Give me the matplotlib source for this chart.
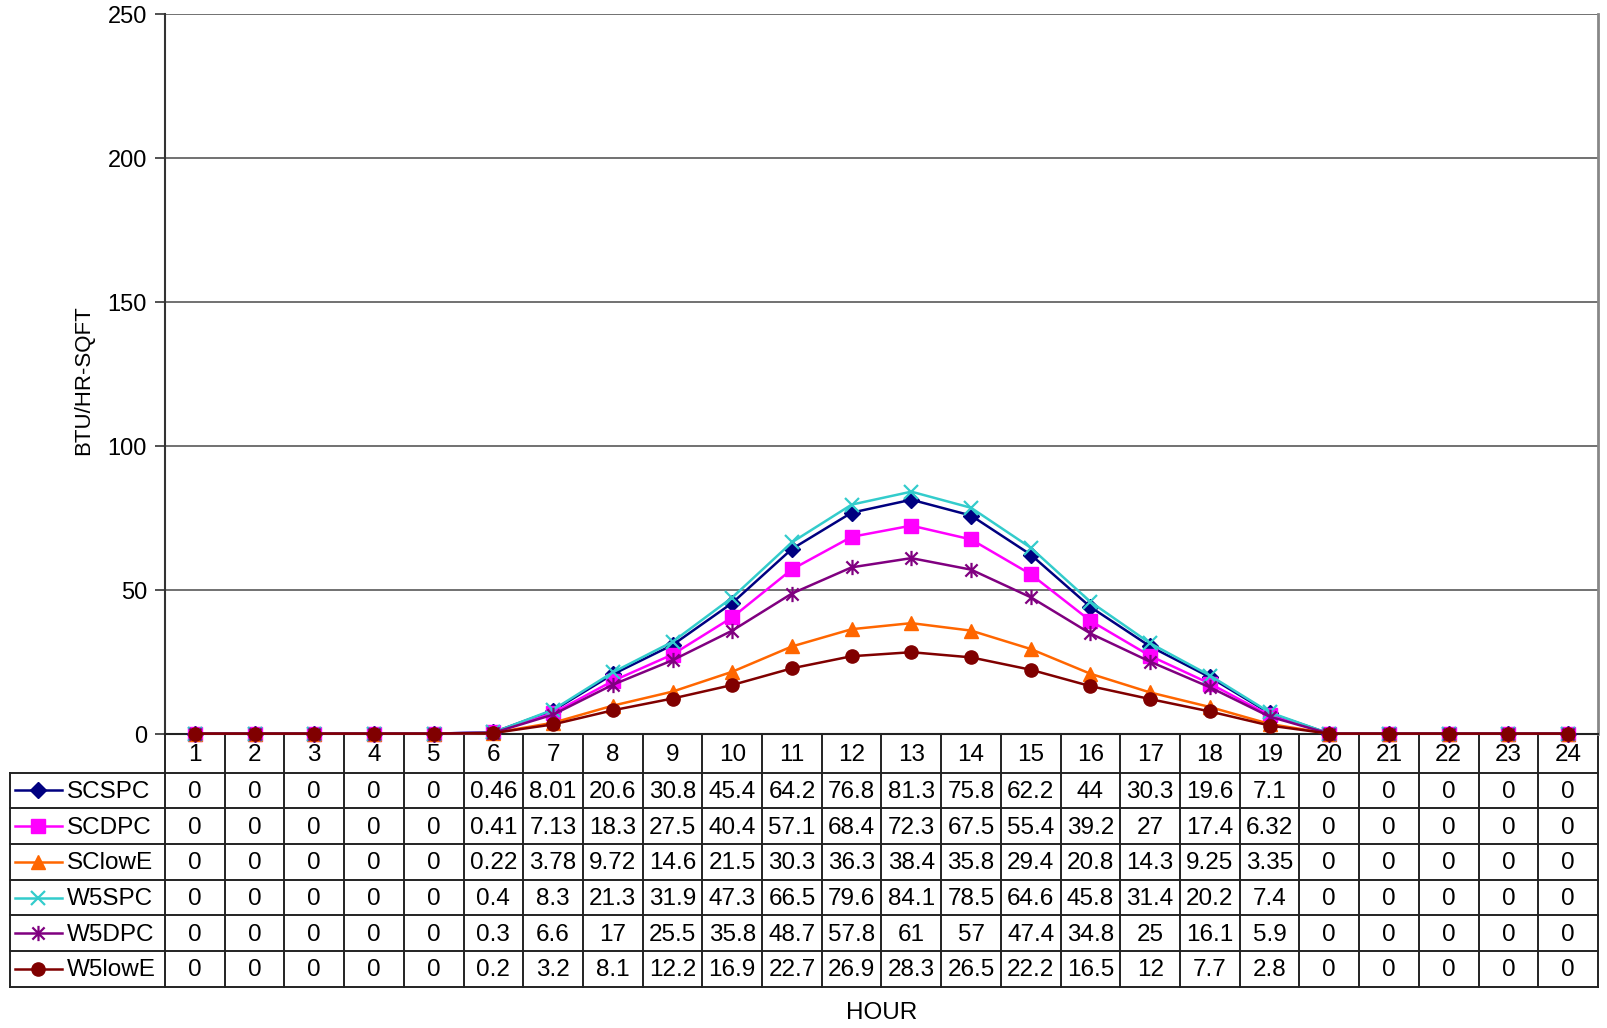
import matplotlib
matplotlib.use("Agg")
import matplotlib.pyplot as plt
from matplotlib.path import Path
from matplotlib.transforms import blended_transform_factory

plt.rcParams['font.family'] = ['Liberation Sans', 'DejaVu Sans']

hours = list(range(1, 25))
series_names = ["SCSPC", "SCDPC", "SClowE", "W5SPC", "W5DPC", "W5lowE"]

scspc = [0, 0, 0, 0, 0, 0.46, 8.01, 20.6, 30.8, 45.4, 64.2, 76.8, 81.3, 75.8, 62.2, 44, 30.3, 19.6, 7.1, 0, 0, 0, 0, 0]
scdpc = [0, 0, 0, 0, 0, 0.41, 7.13, 18.3, 27.5, 40.4, 57.1, 68.4, 72.3, 67.5, 55.4, 39.2, 27, 17.4, 6.32, 0, 0, 0, 0, 0]
sclowe = [0, 0, 0, 0, 0, 0.22, 3.78, 9.72, 14.6, 21.5, 30.3, 36.3, 38.4, 35.8, 29.4, 20.8, 14.3, 9.25, 3.35, 0, 0, 0, 0, 0]
w5spc = [0, 0, 0, 0, 0, 0.4, 8.3, 21.3, 31.9, 47.3, 66.5, 79.6, 84.1, 78.5, 64.6, 45.8, 31.4, 20.2, 7.4, 0, 0, 0, 0, 0]
w5dpc = [0, 0, 0, 0, 0, 0.3, 6.6, 17, 25.5, 35.8, 48.7, 57.8, 61, 57, 47.4, 34.8, 25, 16.1, 5.9, 0, 0, 0, 0, 0]
w5lowe = [0, 0, 0, 0, 0, 0.2, 3.2, 8.1, 12.2, 16.9, 22.7, 26.9, 28.3, 26.5, 22.2, 16.5, 12, 7.7, 2.8, 0, 0, 0, 0, 0]
series_values = [scspc, scdpc, sclowe, w5spc, w5dpc, w5lowe]

y_ticks = [0, 50, 100, 150, 200, 250]

# asterisk marker: vertical bar plus two diagonals
asterisk = Path(
    [(0, -1), (0, 1), (-0.8, -0.8), (0.8, 0.8), (-0.8, 0.8), (0.8, -0.8)],
    [Path.MOVETO, Path.LINETO, Path.MOVETO, Path.LINETO, Path.MOVETO, Path.LINETO],
)

styles = [
    dict(color="#000080", marker="D", markersize=8.5, mec="#000080"),
    dict(color="#FF00FF", marker="s", markersize=9.5, mec="#FF00FF"),
    dict(color="#FF6600", marker="^", markersize=10, mec="#FF6600"),
    dict(color="#33CCCC", marker="x", markersize=10, mew=1.6),
    dict(color="#800080", marker=asterisk, markersize=11, mew=1.6),
    dict(color="#800000", marker="o", markersize=9.5, mec="#800000"),
]

FS = 17.5
W, H = 1608, 1029
fig = plt.figure(figsize=(W / 100, H / 100 - 0.004), dpi=100)

left_px, right_px, top_px, bottom_px = 165, 1598, 15, 734.5
ax = fig.add_axes([left_px / W, 1 - bottom_px / H,
                   (right_px - left_px) / W, (bottom_px - top_px) / H])

for vals, st in zip(series_values, styles):
    ax.plot(hours, vals, lw=1.8, clip_on=False, zorder=3, **st)

ax.set_xlim(0.5, 24.5)
ax.set_ylim(0, 250)
ax.set_yticks(y_ticks)
ax.set_yticklabels([str(t) for t in y_ticks], fontsize=17)
ax.tick_params(axis="y", direction="out", length=7, width=1.2, color="#333333", pad=6)
ax.tick_params(axis="x", length=0, labelbottom=False)
ax.yaxis.grid(True, color="#666666", lw=1.3)
ax.set_axisbelow(True)
ax.spines["top"].set_visible(False)
ax.spines["right"].set_color("#888888")
ax.spines["right"].set_linewidth(2)
ax.spines["left"].set_color("#333333")
ax.spines["left"].set_linewidth(1.5)
ax.spines["bottom"].set_color("#222222")
ax.spines["bottom"].set_linewidth(1.5)

fig.text(84 / W, 1 - 380 / H, "BTU/HR-SQFT", rotation=90, ha="center", va="center", fontsize=16)

# data table below the plot area, x tied to the hour scale, y in pixels from top
tab = fig.add_axes([0, 0, 1, 1], zorder=-1)
tab.set_xlim(0, W)
tab.set_ylim(H, 0)
tab.axis("off")
bt = blended_transform_factory(ax.transData, tab.transData)

hour_row_bottom = 773.5
row_h = 35.7
table_bottom = hour_row_bottom + row_h * len(series_names)
legend_left = 10

line_kw = dict(color="#222222", lw=1.4)
# column separators
for h in hours + [25]:
    tab.plot([h - 0.5, h - 0.5], [bottom_px, table_bottom], transform=bt, **line_kw)
# row separators
for i in range(len(series_names) + 1):
    y = hour_row_bottom + i * row_h
    tab.plot([legend_left, right_px], [y, y], **line_kw)
tab.plot([legend_left, legend_left], [hour_row_bottom, table_bottom], **line_kw)

# hour labels
for h in hours:
    tab.text(h, (bottom_px + hour_row_bottom) / 2 + 1, str(h), transform=bt,
             ha="center", va="center", fontsize=FS)

# series rows
for i, (name, vals, st) in enumerate(zip(series_names, series_values, styles)):
    yc = hour_row_bottom + (i + 0.5) * row_h
    tab.plot([15, 62], [yc, yc], color=st["color"], lw=1.8)
    mk = {k: v for k, v in st.items() if k != "color"}
    tab.plot([38.5], [yc], color=st["color"], linestyle="none", **mk)
    tab.text(67, yc + 1, name, ha="left", va="center", fontsize=FS)
    for h, v in zip(hours, vals):
        tab.text(h, yc + 1, f"{v:g}", transform=bt, ha="center", va="center", fontsize=FS)

fig.text(0.5 * (left_px + right_px) / W, 1 - 1013 / H, "HOUR", ha="center", va="center", fontsize=FS)

fig.savefig("out.png", dpi=100, facecolor="white")
